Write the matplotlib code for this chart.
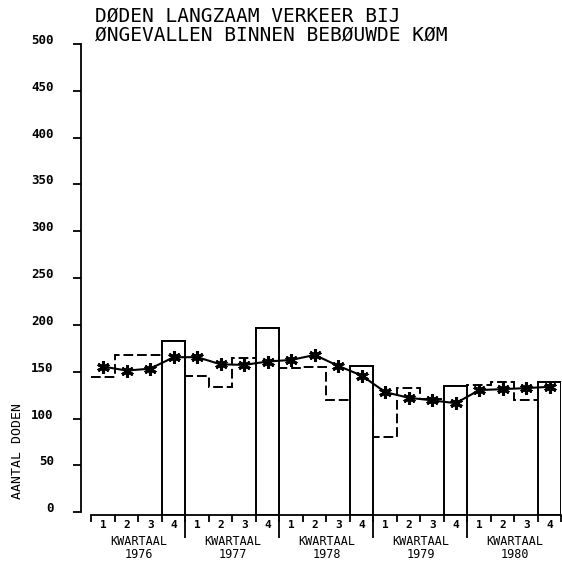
import matplotlib
matplotlib.use('Agg')
import matplotlib.pyplot as plt
import numpy as np

# kwartaalcijfers (gestippelde lijn, kwartaal 4 als staaf)
years = ['1976', '1977', '1978', '1979', '1980']
quarter_labels = ['1', '2', '3', '4']
quarterly = [144.6, 168, 168, 183,
             145.6, 134, 165, 197,
             154, 155, 120, 156.6,
             80.4, 132.8, 121, 135,
             135.5, 139.5, 120, 139.5]
# voortschrijdend gemiddelde (lijn met sterretjes)
trend = [155.6, 151.3, 153.4, 165.6,
         165.6, 158, 157.4, 161,
         162.7, 168, 156.3, 146,
         128.3, 122.3, 119.5, 116.5,
         130.5, 131.5, 132.6, 134]
yticks = list(range(0, 501, 50))

title1 = 'DØDEN LANGZAAM VERKEER BIJ'
title2 = 'ØNGEVALLEN BINNEN BEBØUWDE KØM'
ylabel = 'AANTAL DODEN'

mono = 'DejaVu Sans Mono'
ybot = -3.4

fig = plt.figure(figsize=(5.62, 5.64), dpi=100)
ax = fig.add_axes([0.1450, 0.0860, 0.8541, 0.8360])

n = len(quarterly)
edges = np.arange(n + 1)
centres = edges[:-1] + 0.5

# dashed quarterly steps
ax.stairs(quarterly, edges, baseline=None, color='black', lw=1.4,
          linestyle=(0, (5, 2)), zorder=1)

# 4th quarter as open bars
q4_x = centres[3::4]
q4_v = np.array(quarterly[3::4])
ax.bar(q4_x, q4_v - ybot, bottom=ybot, width=1, facecolor='white',
       edgecolor='black', lw=1.4, zorder=2)

# trend line
ax.plot(centres, trend, color='black', lw=1.5, marker=(6, 2, 0), ms=9,
        mew=2.2, zorder=3)

ax.set_xlim(-0.4255, 20)
ax.set_ylim(ybot, 500)

for s in ['top', 'right']:
    ax.spines[s].set_visible(False)
ax.spines['left'].set_bounds(0, 500)
ax.spines['bottom'].set_bounds(0, 20)
ax.spines['left'].set_linewidth(1.3)
ax.spines['bottom'].set_linewidth(1.3)

ax.set_yticks(yticks, labels=[str(v) for v in yticks],
              fontfamily=mono, fontweight='bold', fontsize=9)
ax.tick_params(axis='y', length=6, width=1.3, pad=14)
for lab in ax.get_yticklabels():
    lab.set_verticalalignment('baseline')

ax.set_xticks(edges, labels=[])
ax.tick_params(axis='x', which='major', length=5, width=1.3)
ax.set_xticks(centres, labels=quarter_labels * len(years), minor=True,
              fontfamily=mono, fontweight='bold', fontsize=8)
ax.tick_params(axis='x', which='minor', length=0, pad=3)

# year dividers below axis
xt = ax.get_xaxis_transform()
ax.vlines(edges[4:-1:4], -0.0467, 0, transform=xt, clip_on=False,
          color='black', lw=1.3)

for i, yr in enumerate(years):
    xc = 4 * i + 2
    ax.text(xc, -0.0545, 'KWARTAAL', transform=xt, ha='center', va='center',
            fontfamily=mono, fontsize=8.5)
    ax.text(xc, -0.0820, yr, transform=xt, ha='center', va='center',
            fontfamily=mono, fontsize=8.5)

fig.text(0.169, 1 - 16 / 564, title1, ha='left', va='center',
         fontfamily=mono, fontsize=14)
fig.text(0.169, 1 - 35 / 564, title2, ha='left', va='center',
         fontfamily=mono, fontsize=14)
fig.text(18 / 562, 1 - 451 / 564, ylabel, rotation=90, ha='center',
         va='center', fontfamily=mono, fontsize=9.5)

fig.savefig('out.png', dpi=100)
